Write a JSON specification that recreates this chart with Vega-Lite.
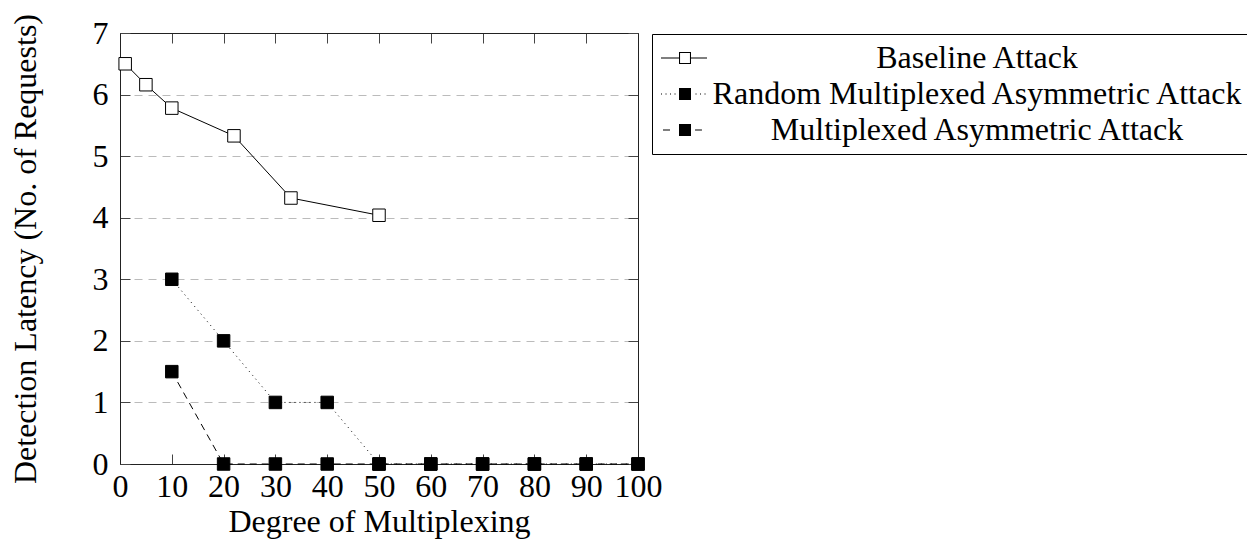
{
  "$schema": "https://vega.github.io/schema/vega-lite/v6.json",
  "autosize": {"type": "none"},
  "width": 518,
  "height": 431,
  "padding": {"left": 120, "top": 33, "right": 609, "bottom": 78},
  "background": "white",
  "config": {
    "font": "Liberation Serif",
    "view": {"stroke": null},
    "axis": {
      "labelFont": "Liberation Serif",
      "titleFont": "Liberation Serif",
      "labelColor": "black",
      "titleColor": "black",
      "labelFontSize": 32,
      "titleFontSize": 32,
      "titleFontWeight": "normal",
      "domainColor": "#222",
      "tickColor": "#444",
      "tickSize": -10,
      "grid": false
    },
    "legend": {"labelFont": "Liberation Serif"}
  },
  "data": {
    "values": [
      {"series": "Baseline Attack", "degree": 1, "latency": 6.5},
      {"series": "Baseline Attack", "degree": 5, "latency": 6.16},
      {"series": "Baseline Attack", "degree": 10, "latency": 5.78},
      {"series": "Baseline Attack", "degree": 22, "latency": 5.33},
      {"series": "Baseline Attack", "degree": 33, "latency": 4.32},
      {"series": "Baseline Attack", "degree": 50, "latency": 4.04},
      {"series": "Random Multiplexed Asymmetric Attack", "degree": 10, "latency": 3},
      {"series": "Random Multiplexed Asymmetric Attack", "degree": 20, "latency": 2},
      {"series": "Random Multiplexed Asymmetric Attack", "degree": 30, "latency": 1},
      {"series": "Random Multiplexed Asymmetric Attack", "degree": 40, "latency": 1},
      {"series": "Random Multiplexed Asymmetric Attack", "degree": 50, "latency": 0},
      {"series": "Random Multiplexed Asymmetric Attack", "degree": 60, "latency": 0},
      {"series": "Random Multiplexed Asymmetric Attack", "degree": 70, "latency": 0},
      {"series": "Random Multiplexed Asymmetric Attack", "degree": 80, "latency": 0},
      {"series": "Random Multiplexed Asymmetric Attack", "degree": 90, "latency": 0},
      {"series": "Random Multiplexed Asymmetric Attack", "degree": 100, "latency": 0},
      {"series": "Multiplexed Asymmetric Attack", "degree": 10, "latency": 1.5},
      {"series": "Multiplexed Asymmetric Attack", "degree": 20, "latency": 0},
      {"series": "Multiplexed Asymmetric Attack", "degree": 30, "latency": 0},
      {"series": "Multiplexed Asymmetric Attack", "degree": 40, "latency": 0},
      {"series": "Multiplexed Asymmetric Attack", "degree": 50, "latency": 0},
      {"series": "Multiplexed Asymmetric Attack", "degree": 60, "latency": 0},
      {"series": "Multiplexed Asymmetric Attack", "degree": 70, "latency": 0},
      {"series": "Multiplexed Asymmetric Attack", "degree": 80, "latency": 0},
      {"series": "Multiplexed Asymmetric Attack", "degree": 90, "latency": 0},
      {"series": "Multiplexed Asymmetric Attack", "degree": 100, "latency": 0}
    ]
  },
  "encoding": {
    "x": {"field": "degree", "type": "quantitative", "scale": {"domain": [0, 100], "nice": false, "zero": false}},
    "y": {"field": "latency", "type": "quantitative", "scale": {"domain": [0, 7], "nice": false}}
  },
  "layer": [
    {
      "transform": [{"filter": "datum.series === 'Baseline Attack'"}],
      "mark": {"type": "line", "color": "black", "strokeWidth": 1},
      "encoding": {
        "x": {
          "field": "degree", "type": "quantitative",
          "axis": {"orient": "bottom", "values": [0, 10, 20, 30, 40, 50, 60, 70, 80, 90, 100], "title": "Degree of Multiplexing", "labelPadding": 17, "titlePadding": 4, "labelFlush": false, "labelOverlap": false}
        },
        "y": {
          "field": "latency", "type": "quantitative",
          "axis": {"orient": "left", "values": [0, 1, 2, 3, 4, 5, 6, 7], "title": "Detection Latency (No. of Requests)", "labelPadding": 22, "titlePadding": 50, "grid": true, "gridColor": "#bbbbbb", "gridDash": [8, 6], "gridWidth": 1, "labelFlush": false, "labelOverlap": false}
        }
      }
    },
    {
      "transform": [{"filter": "datum.series === 'Random Multiplexed Asymmetric Attack'"}],
      "mark": {"type": "line", "color": "black", "strokeWidth": 1, "strokeDash": [1, 4]},
      "encoding": {
        "x": {"field": "degree", "type": "quantitative", "axis": null},
        "y": {"field": "latency", "type": "quantitative", "axis": null}
      }
    },
    {
      "transform": [{"filter": "datum.series === 'Multiplexed Asymmetric Attack'"}],
      "mark": {"type": "line", "color": "black", "strokeWidth": 1, "strokeDash": [7, 5]},
      "encoding": {
        "x": {"field": "degree", "type": "quantitative", "axis": null},
        "y": {"field": "latency", "type": "quantitative", "axis": null}
      }
    },
    {
      "transform": [{"filter": "datum.series === 'Baseline Attack'"}],
      "mark": {"type": "point", "shape": "square", "filled": true, "fill": "white", "size": 156, "stroke": "black", "strokeWidth": 1, "opacity": 1},
      "encoding": {
        "x": {
          "field": "degree", "type": "quantitative",
          "axis": {"orient": "top", "values": [0, 10, 20, 30, 40, 50, 60, 70, 80, 90, 100], "labels": false, "title": null}
        },
        "y": {
          "field": "latency", "type": "quantitative",
          "axis": {"orient": "right", "values": [0, 1, 2, 3, 4, 5, 6, 7], "labels": false, "title": null}
        }
      }
    },
    {
      "transform": [{"filter": "datum.series !== 'Baseline Attack'"}],
      "mark": {"type": "point", "shape": "square", "filled": true, "fill": "black", "size": 156, "stroke": "black", "strokeWidth": 1, "opacity": 1},
      "encoding": {
        "x": {"field": "degree", "type": "quantitative", "axis": null},
        "y": {"field": "latency", "type": "quantitative", "axis": null}
      }
    },
    {
      "mark": {"type": "point", "filled": true, "opacity": 0, "strokeWidth": 0},
      "encoding": {
        "x": {"field": "degree", "type": "quantitative", "axis": null},
        "y": {"field": "latency", "type": "quantitative", "axis": null},
        "shape": {
          "field": "series", "type": "nominal",
          "scale": {
            "domain": ["Baseline Attack", "Random Multiplexed Asymmetric Attack", "Multiplexed Asymmetric Attack"],
            "range": [
              "M-1,-0.035H0.2V0.035H-1ZM1,-0.035H2.07V0.035H1ZM0.2,-0.4H1V0.4H0.2ZM0.27,-0.33V0.33H0.93V-0.33Z",
              "M-1,-0.035H-0.93V0.035H-1ZM-0.7,-0.035H-0.63V0.035H-0.7ZM-0.4,-0.035H-0.33V0.035H-0.4ZM-0.1,-0.035H-0.03V0.035H-0.1ZM1.3,-0.035H1.37V0.035H1.3ZM1.6,-0.035H1.67V0.035H1.6ZM1.9,-0.035H1.97V0.035H1.9ZM0.2,-0.4H1V0.4H0.2Z",
              "M-0.87,-0.035H-0.4V0.035H-0.87ZM1.27,-0.035H1.73V0.035H1.27ZM0.2,-0.4H1V0.4H0.2Z"
            ]
          },
          "legend": {
            "orient": "none",
            "legendX": 532,
            "legendY": 1,
            "title": null,
            "strokeColor": "black",
            "fillColor": "white",
            "padding": 8,
            "rowPadding": 4,
            "labelFontSize": 32,
            "labelColor": "black",
            "labelAlign": "center",
            "labelOffset": 285,
            "labelLimit": 1000,
            "symbolSize": 900,
            "symbolOpacity": 1,
            "symbolStrokeWidth": 0
          }
        },
        "fill": {
          "field": "series", "type": "nominal",
          "scale": {"domain": ["Baseline Attack", "Random Multiplexed Asymmetric Attack", "Multiplexed Asymmetric Attack"], "range": ["black", "black", "black"]},
          "legend": {
            "orient": "none",
            "legendX": 532,
            "legendY": 1,
            "title": null,
            "strokeColor": "black",
            "fillColor": "white",
            "padding": 8,
            "rowPadding": 4,
            "labelFontSize": 32,
            "labelColor": "black",
            "labelAlign": "center",
            "labelOffset": 285,
            "labelLimit": 1000,
            "symbolSize": 900,
            "symbolOpacity": 1,
            "symbolStrokeWidth": 0
          }
        }
      }
    }
  ],
  "resolve": {"axis": {"x": "independent", "y": "independent"}}
}
